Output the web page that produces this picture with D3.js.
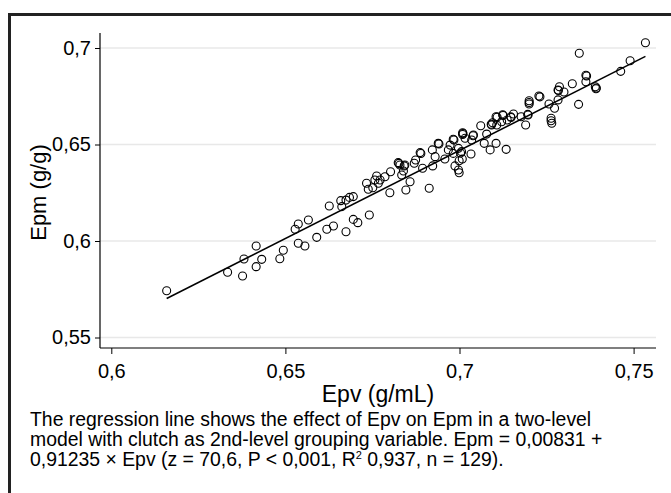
<!DOCTYPE html>
<html>
<head>
<meta charset="utf-8">
<script src="https://cdn.jsdelivr.net/npm/d3@7/dist/d3.min.js"></script>
<style>
  html, body { margin: 0; padding: 0; background: #fff; }
  svg { display: block; }
  text { font-family: "Liberation Sans", Arial, Helvetica, sans-serif; fill: #000; }
</style>
</head>
<body>
<svg id="chart" width="671" height="493"></svg>
<script>
// ---- data ----
const epv = [
  0.6159,0.6334,0.6377,0.6381,0.6416,0.6432,0.6416,0.6484,0.6494,0.6528,
  0.6537,0.6537,0.6556,0.6566,0.6590,0.6619,0.6638,0.6674,0.6695,0.6708,
  0.6741,0.6626,0.6659,0.6662,0.6674,0.6684,0.6695,0.6733,0.6738,0.6751,
  0.6757,0.6762,0.6772,0.6767,0.6786,0.6802,0.6800,0.6824,0.6829,0.6843,
  0.6839,0.6834,0.6858,0.6846,0.6870,0.6874,0.6887,0.6894,0.6913,0.6922,
  0.6930,0.6939,0.6923,0.6958,0.6973,0.6968,0.6982,0.6997,0.6982,0.7006,
  0.7008,0.6999,0.6987,0.6997,0.6999,0.7016,0.7009,0.7009,0.7035,0.7040,
  0.7033,0.7061,0.7071,0.7078,0.7088,0.7091,0.7095,0.7105,0.7107,0.7105,
  0.7121,0.7124,0.7134,0.7137,0.7147,0.7155,0.7177,0.7190,0.7196,0.7200,
  0.7200,0.7200,0.7228,0.7534,0.7344,0.7490,0.7463,0.7363,0.7363,0.7324,
  0.7390,0.7392,0.7287,0.7283,0.7300,0.7283,0.7257,0.7273,0.7342,0.7263,
  0.7263,0.7265,0.6826,0.6841,0.6889,0.6941,0.6984,0.7003,0.7010,0.7039,
  0.7092,0.7108,0.7125,0.7148,0.7197,0.7231,0.7284,0.7393,0.7365
];
const epm = [
  0.5742,0.5838,0.5819,0.5907,0.5974,0.5905,0.5867,0.5908,0.5952,0.6061,
  0.6088,0.5988,0.5974,0.6109,0.6019,0.6061,0.6078,0.6048,0.6112,0.6095,
  0.6135,0.6181,0.6209,0.6178,0.6212,0.6226,0.6230,0.6299,0.6268,0.6276,
  0.6316,0.6337,0.6316,0.6299,0.6333,0.6359,0.6250,0.6406,0.6394,0.6394,
  0.6363,0.6342,0.6307,0.6264,0.6403,0.6420,0.6458,0.6377,0.6273,0.6472,
  0.6437,0.6506,0.6389,0.6425,0.6497,0.6472,0.6527,0.6480,0.6454,0.6463,
  0.6425,0.6416,0.6389,0.6368,0.6354,0.6532,0.6561,0.6552,0.6523,0.6549,
  0.6451,0.6597,0.6506,0.6554,0.6472,0.6605,0.6613,0.6644,0.6601,0.6506,
  0.6618,0.6654,0.6475,0.6627,0.6644,0.6658,0.6644,0.6601,0.6656,0.6727,
  0.6718,0.6710,0.6751,0.7027,0.6973,0.6934,0.6879,0.6859,0.6825,0.6815,
  0.6799,0.6789,0.6799,0.6782,0.6772,0.6731,0.6710,0.6688,0.6708,0.6636,
  0.6623,0.6610,0.6402,0.6389,0.6453,0.6503,0.6523,0.6456,0.6557,0.6545,
  0.6601,0.6642,0.6650,0.6640,0.6653,0.6747,0.6780,0.6793,0.6855
];
const xTicks = [0.6, 0.65, 0.7, 0.75];
const yTicks = [0.55, 0.6, 0.65, 0.7];
const intercept = 0.00831;
const slope = 0.91235;
const xTitle = "Epv (g/mL)";
const yTitle = "Epm (g/g)";
const captionLines = [
  "The regression line shows the effect of Epv on Epm in a two-level",
  "model with clutch as 2nd-level grouping variable. Epm = 0,00831 +",
  ["0,91235 × Epv (z = 70,6, P < 0,001, R", "2", " 0,937, n = 129)."]
];

// ---- layout ----
const svg = d3.select("#chart");
const plot = { left: 100, right: 656, top: 33, bottom: 348 };
const x = d3.scaleLinear().domain([0.6, 0.75]).range([111.3, 633.6]);
const y = d3.scaleLinear().domain([0.55, 0.7]).range([337.5, 48]);
const fmt = d => String(+d.toFixed(2)).replace(".", ",");

svg.append("rect").attr("width", 671).attr("height", 493).attr("fill", "#fff");

// outer frame (left & top visible)
svg.append("path")
  .attr("d", "M9.5,495 L9.5,14.5 L673,14.5")
  .attr("fill", "none").attr("stroke", "#222").attr("stroke-width", 3);

// gridlines
svg.append("g").selectAll("line").data(yTicks).join("line")
  .attr("x1", plot.left).attr("x2", plot.right)
  .attr("y1", d => y(d)).attr("y2", d => y(d))
  .attr("stroke", "#e8e8e8").attr("stroke-width", 1.5);

// axes
const yAxis = svg.append("g").attr("transform", `translate(${plot.left},0)`)
  .call(d3.axisLeft(y).tickValues(yTicks).tickFormat(fmt).tickSize(5).tickPadding(4));
const xAxis = svg.append("g").attr("transform", `translate(0,${plot.bottom})`)
  .call(d3.axisBottom(x).tickValues(xTicks).tickFormat(fmt).tickSize(6).tickPadding(10));
[yAxis, xAxis].forEach(g => {
  g.select(".domain").remove();
  g.selectAll("line").attr("stroke", "#000").attr("stroke-width", 1);
  g.selectAll("text").attr("font-size", 20).attr("font-family", '"Liberation Sans", Arial, sans-serif').attr("fill", "#000");
});
svg.append("line").attr("x1", plot.left).attr("x2", plot.left)
  .attr("y1", plot.top).attr("y2", plot.bottom).attr("stroke", "#000").attr("stroke-width", 1.2);
svg.append("line").attr("x1", plot.left).attr("x2", plot.right)
  .attr("y1", plot.bottom).attr("y2", plot.bottom).attr("stroke", "#000").attr("stroke-width", 1.2);

// points
const pts = epv.map((v, i) => ({ x: v, y: epm[i] }));
svg.append("g").selectAll("circle").data(pts).join("circle")
  .attr("cx", d => x(d.x)).attr("cy", d => y(d.y)).attr("r", 4)
  .attr("fill", "none").attr("stroke", "#000").attr("stroke-width", 1.1);

// regression line
const [xmin, xmax] = d3.extent(epv);
svg.append("line")
  .attr("x1", x(xmin)).attr("y1", y(intercept + slope * xmin))
  .attr("x2", x(xmax)).attr("y2", y(intercept + slope * xmax))
  .attr("stroke", "#000").attr("stroke-width", 1.5);

// axis titles
svg.append("text").attr("x", (plot.left + plot.right) / 2).attr("y", 402)
  .attr("text-anchor", "middle").attr("font-size", 23).text(xTitle);
svg.append("text").attr("transform", `translate(46,${(plot.top + plot.bottom) / 2 + 2}) rotate(-90)`)
  .attr("text-anchor", "middle").attr("font-size", 22).text(yTitle);

// caption
const cap = svg.append("g");
captionLines.forEach((line, i) => {
  const t = cap.append("text").attr("x", 30).attr("y", 426 + i * 20).attr("font-size", 19.4);
  if (Array.isArray(line)) {
    t.append("tspan").text(line[0]);
    t.append("tspan").attr("dy", -7).attr("dx", 0).attr("font-size", 11).text(line[1]);
    t.append("tspan").attr("dy", 7).text(line[2]);
  } else {
    t.text(line);
  }
});
</script>
</body>
</html>
